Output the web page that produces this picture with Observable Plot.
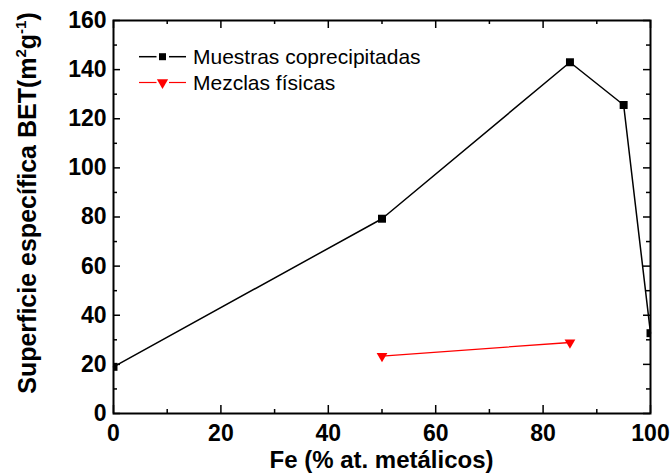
<!DOCTYPE html>
<html>
<head>
<meta charset="utf-8">
<script src="https://cdn.jsdelivr.net/npm/d3@7"></script>
<script src="https://cdn.jsdelivr.net/npm/@observablehq/plot@0.6"></script>
<style>
  html, body { margin: 0; padding: 0; background: #fff; }
  #chart { position: relative; width: 671px; height: 475px; }
</style>
</head>
<body>
<div id="chart"></div>
<script>
// ---- data ----
const feCop = [0, 50, 85, 95, 100];
const betCop = [19, 79.3, 143, 125.6, 32.7];
const feMez = [50, 85];
const betMez = [23.4, 28.9];
const xTicks = [0, 20, 40, 60, 80, 100];
const xMinor = [10, 30, 50, 70, 90];
const yTicks = [0, 20, 40, 60, 80, 100, 120, 140, 160];
const yMinor = [10, 30, 50, 70, 90, 110, 130, 150];
const seriesNames = ["Muestras coprecipitadas", "Mezclas físicas"];

const cop = feCop.map((x, i) => ({x, y: betCop[i]}));
const mez = feMez.map((x, i) => ({x, y: betMez[i]}));

const W = 671, H = 475, mL = 113, mR = 21, mT = 20, mB = 62;
const pw = W - mL - mR, ph = H - mT - mB;
const font = "'Liberation Sans', Arial, Helvetica, sans-serif";

const chart = Plot.plot({
  width: W, height: H,
  marginLeft: mL, marginRight: mR, marginTop: mT, marginBottom: mB,
  style: {fontFamily: font, background: "#fff", color: "#000"},
  x: {domain: [0, 100], label: null},
  y: {domain: [0, 160], label: null},
  marks: [
    // inward ticks, bottom & top
    Plot.ruleX(xTicks, {x: d => d, insetTop: ph - 8, strokeWidth: 1.5}),
    Plot.ruleX(xMinor, {x: d => d, insetTop: ph - 4, strokeWidth: 1.5}),
    Plot.ruleX(xTicks, {x: d => d, insetBottom: ph - 8, strokeWidth: 1.5}),
    Plot.ruleX(xMinor, {x: d => d, insetBottom: ph - 4, strokeWidth: 1.5}),
    // inward ticks, left & right
    Plot.ruleY(yTicks, {y: d => d, insetRight: pw - 7, strokeWidth: 1.5}),
    Plot.ruleY(yMinor, {y: d => d, insetRight: pw - 4, strokeWidth: 1.5}),
    Plot.ruleY(yTicks, {y: d => d, insetLeft: pw - 7, strokeWidth: 1.5}),
    Plot.ruleY(yMinor, {y: d => d, insetLeft: pw - 4, strokeWidth: 1.5}),
    Plot.axisX({ticks: xTicks, tickSize: 0, tickPadding: 11, fontSize: 23, fontWeight: "bold", tickFormat: d => d}),
    Plot.axisY({ticks: yTicks, tickSize: 0, tickPadding: 7, fontSize: 23, fontWeight: "bold", tickFormat: d => d}),
    Plot.line(cop, {x: "x", y: "y", stroke: "#000", strokeWidth: 1.5}),
    Plot.line(mez, {x: "x", y: "y", stroke: "#ff0000", strokeWidth: 1.3}),
    Plot.dot(cop, {x: "x", y: "y", symbol: "square", r: 4.5, fill: "#000", stroke: "none", clip: true}),
    Plot.dot(mez, {x: "x", y: "y", symbol: "triangle", rotate: 180, r: 4, fill: "#ff0000", stroke: "none", clip: true}),
    Plot.frame({stroke: "#000", strokeWidth: 2})
  ]
});

document.getElementById("chart").appendChild(chart);

const svg = d3.select(chart);

// legend
const legend = svg.append("g").attr("font-family", font).attr("font-size", 21).attr("text-anchor", "start");
const rows = [
  {name: seriesNames[0], color: "#000", sym: d3.symbol(d3.symbolSquare, 49), rot: 0, y: 56.7, sw: 1.5},
  {name: seriesNames[1], color: "#ff0000", sym: d3.symbol(d3.symbolTriangle, 55), rot: 180, y: 82.5, sw: 1.2}
];
rows.forEach(r => {
  legend.append("line").attr("x1", 139).attr("x2", 156.5).attr("y1", r.y).attr("y2", r.y)
    .attr("stroke", r.color).attr("stroke-width", r.sw);
  legend.append("line").attr("x1", 169).attr("x2", 186).attr("y1", r.y).attr("y2", r.y)
    .attr("stroke", r.color).attr("stroke-width", r.sw);
  legend.append("path").attr("d", r.sym()).attr("fill", r.color)
    .attr("transform", `translate(162.5,${r.y}) rotate(${r.rot})`);
  legend.append("text").attr("x", 193).attr("y", r.y + 7.3).attr("fill", "#000")
    .attr("text-anchor", "start").text(r.name);
});

// x axis title
svg.append("text").attr("x", mL + pw / 2).attr("y", 468).attr("text-anchor", "middle")
  .attr("font-family", font).attr("font-size", 24).attr("font-weight", "bold")
  .text("Fe (% at. metálicos)");

// y axis title with superscripts
const yt = svg.append("text").attr("transform", "translate(36,203) rotate(-90)")
  .attr("text-anchor", "middle").attr("font-family", font).attr("font-size", 25).attr("font-weight", "bold");
yt.append("tspan").text("Superficie específica BET(m");
yt.append("tspan").attr("font-size", 15).attr("dy", -10).text("2");
yt.append("tspan").attr("dy", 10).text("g");
yt.append("tspan").attr("font-size", 15).attr("dy", -10).text("-1");
yt.append("tspan").attr("dy", 10).text(")");
</script>
</body>
</html>
